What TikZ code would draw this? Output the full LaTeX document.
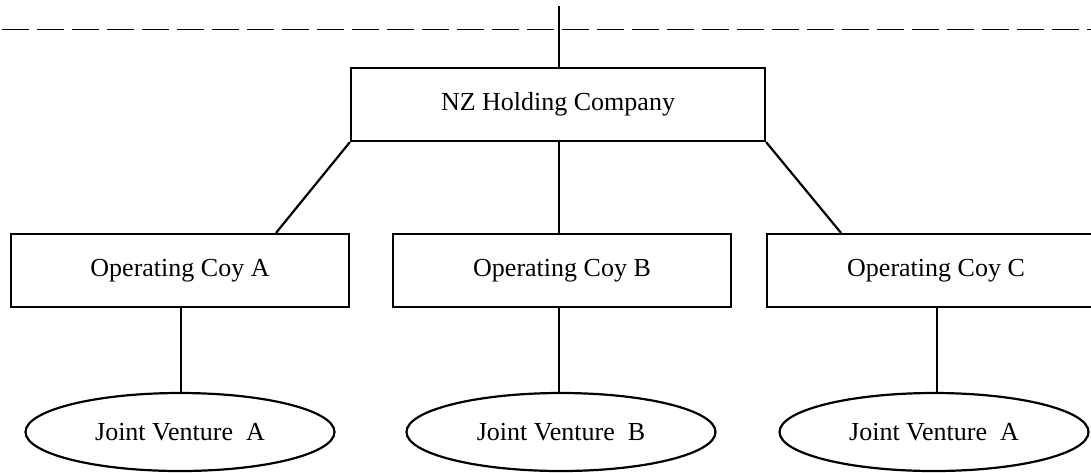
\documentclass[tikz,border=0pt]{standalone}
\usepackage{fontspec}
\setmainfont{Liberation Serif}
\usetikzlibrary{shapes.geometric}
\begin{document}
\begin{tikzpicture}[x=0.5pt,y=-0.5pt,
  every node/.style={font=\fontsize{13}{15}\selectfont, inner sep=0pt},
  boxnode/.style={draw, line width=1.1pt, rectangle, minimum height=36.5pt},
  opbox/.style={boxnode, minimum width=169pt},
  jvnode/.style={draw, line width=1.1pt, ellipse, minimum width=154.5pt, minimum height=39pt},
  link/.style={line width=1.1pt},
  divider/.style={line width=0.6pt, dash pattern=on 13.5pt off 4pt}]
\useasboundingbox (0,0) rectangle (1091,472);
\clip (0,0) rectangle (1091,472);

\coordinate (dl) at (2,29.7);
\coordinate (dr) at (1091,29.7);
\draw[divider] (dl) -- (dr);

\node[boxnode, minimum width=207pt] (nz) at (558,104.5) {NZ Holding Company};
\coordinate (top) at (559,6);

\node[opbox] (opA) at (180,270.5) {Operating Coy A};
\node[opbox] (opB) at (562,270.5) {Operating Coy B};
\node[opbox] (opC) at (936,270.5) {Operating Coy C};

\node[jvnode] (jvA) at (180,432) {Joint Venture\ \ A};
\node[jvnode] (jvB) at (561,432) {Joint Venture\ \ B};
\node[jvnode] (jvC) at (934,432) {Joint Venture\ \ A};

\draw[link] (top) -- (top |- nz.north);
\draw[link] (nz.south west) -- ([xshift=48pt]opA.north);
\draw[link] (nz.south east) -- ([xshift=-47.5pt]opC.north);
\draw[link] ([xshift=0.5pt]nz.south) -- ([xshift=0.5pt]nz.south |- opB.north);
\draw[link] ([xshift=0.5pt]opA.south) -- ([xshift=0.5pt]opA.south |- jvA.north);
\draw[link] ([xshift=-1.5pt]opB.south) -- ([xshift=-1.5pt]opB.south |- jvB.north);
\draw[link] ([xshift=0.5pt]opC.south) -- ([xshift=0.5pt]opC.south |- jvC.north);
\end{tikzpicture}
\end{document}
